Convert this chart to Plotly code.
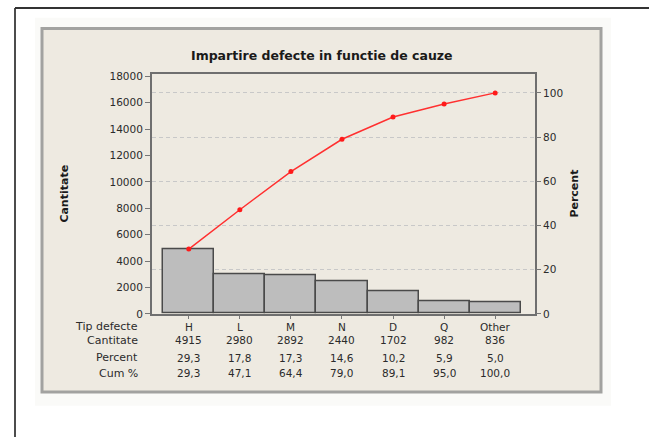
import plotly.graph_objects as go

# Pareto data: defect types and counts
categories = ["H", "L", "M", "N", "D", "Q", "Other"]
counts = [4915, 2980, 2892, 2440, 1702, 982, 836]
percent = [29.3, 17.8, 17.3, 14.6, 10.2, 5.9, 5.0]
cum_percent = [29.3, 47.1, 64.4, 79.0, 89.1, 95.0, 100.0]
row_labels = ["Tip defecte", "Cantitate", "Percent", "Cum %"]
left_ticks = list(range(0, 18001, 2000))
right_ticks = [0, 20, 40, 60, 80, 100]

W, H = 649, 443
FONT = "DejaVu Sans"
TXT = "#2b2b2b"


def px(x):
    return x / W


def py(y):
    return 1 - y / H


total = sum(counts)
left_max = 18150
right_max = left_max / total * 100  # keep 100 % aligned with the total count

fig = go.Figure()

fig.add_trace(go.Bar(
    x=categories, y=counts, width=1.0,
    marker=dict(color="#bdbdbd", line=dict(color="#4a4a4a", width=1.5)),
    yaxis="y", showlegend=False,
))
fig.add_trace(go.Scatter(
    x=categories, y=cum_percent, mode="lines+markers",
    line=dict(color="#ff3030", width=1.5),
    marker=dict(color="#ff1a1a", size=5),
    yaxis="y2", showlegend=False,
))

shapes = [
    # faint halo around the panel
    dict(type="rect", xref="paper", yref="paper", x0=px(35), x1=px(611), y0=py(411), y1=py(14),
         fillcolor="#fafaf8", line=dict(width=0), layer="below"),
    # beige chart panel
    dict(type="rect", xref="paper", yref="paper", x0=px(42), x1=px(601), y0=py(397), y1=py(25),
         fillcolor="#eeeae1", line=dict(color="#a2a2a0", width=3), layer="below"),
    # page border lines
    dict(type="line", xref="paper", yref="paper", x0=px(15), x1=px(15), y0=py(4), y1=py(443),
         line=dict(color="#111111", width=1.5)),
    dict(type="line", xref="paper", yref="paper", x0=px(15), x1=1, y0=py(4), y1=py(4),
         line=dict(color="#333333", width=2)),
]

annotations = [
    dict(text="<b>Impartire defecte in functie de cauze</b>", xref="paper", yref="paper",
         x=px(322), y=py(53), xanchor="center", yanchor="middle", showarrow=False,
         font=dict(family=FONT, size=12.5, color="#1a1a1a")),
    dict(text="<b>Cantitate</b>", xref="paper", yref="paper", x=px(65), y=py(194),
         xanchor="center", yanchor="middle", textangle=-90, showarrow=False,
         font=dict(family=FONT, size=11, color="#1a1a1a")),
    dict(text="<b>Percent</b>", xref="paper", yref="paper", x=px(575), y=py(194),
         xanchor="center", yanchor="middle", textangle=-90, showarrow=False,
         font=dict(family=FONT, size=11, color="#1a1a1a")),
]

row_y = [330, 344, 362, 378]
for label, yy in zip(row_labels, row_y):
    annotations.append(dict(text=label, xref="paper", yref="paper", x=px(140), y=py(yy),
                            xanchor="right", yanchor="middle", showarrow=False,
                            font=dict(family=FONT, size=11, color=TXT)))


def fmt(v):
    return f"{v:.1f}".replace(".", ",")


rows = [categories, [str(c) for c in counts], [fmt(p) for p in percent], [fmt(c) for c in cum_percent]]
for vals, yy in zip(rows, row_y):
    for cat, t in zip(categories, vals):
        annotations.append(dict(text=t, xref="x", yref="paper", x=cat, y=py(yy),
                                xanchor="center", yanchor="middle", showarrow=False,
                                font=dict(family=FONT, size=10.5, color=TXT)))

fig.update_layout(
    width=W, height=H, margin=dict(l=0, r=0, t=0, b=0),
    paper_bgcolor="white", plot_bgcolor="white",
    bargap=0, shapes=shapes, annotations=annotations,
    font=dict(family=FONT, size=10.5, color=TXT),
    xaxis=dict(domain=[px(152), px(535)], type="category", range=[-0.72, 6.78],
               showline=True, mirror=True, linecolor="#6f6f6f", linewidth=2,
               ticks="outside", ticklen=3, tickcolor="#777777",
               showticklabels=False, showgrid=False, zeroline=False, fixedrange=True),
    yaxis=dict(domain=[py(317), py(72)], range=[0, left_max], tickvals=left_ticks,
               ticktext=[str(v) for v in left_ticks],
               showline=True, mirror=True, linecolor="#6f6f6f", linewidth=2,
               ticks="outside", ticklen=5, tickcolor="#777777",
               showgrid=False, zeroline=False, tickfont=dict(family=FONT, size=10.5, color=TXT)),
    yaxis2=dict(overlaying="y", side="right", range=[0, right_max], tickvals=right_ticks,
                ticktext=[str(v) for v in right_ticks],
                showline=False, ticks="outside", ticklen=5, tickcolor="#777777",
                showgrid=True, gridcolor="#c8c8c8", griddash="4px,3px", gridwidth=1.2,
                zeroline=False, tickfont=dict(family=FONT, size=10.5, color=TXT)),
)

fig.write_html("out.html")
